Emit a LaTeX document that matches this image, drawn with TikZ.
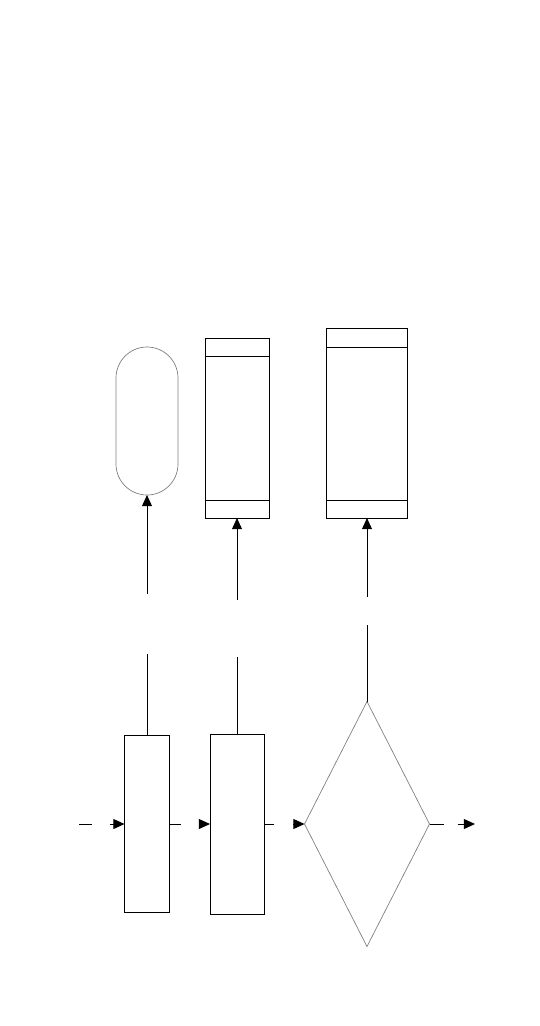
\documentclass[tikz,border=0pt]{standalone}
\usetikzlibrary{shapes.geometric,arrows.meta}

\begin{document}
\begin{tikzpicture}[x=0.03cm, y=-0.03cm, line width=0.8pt,
        box/.style = {draw, rectangle, inner sep=0pt, outer sep=0pt},
        term/.style = {draw=gray, line width=0.6pt, rectangle, rounded corners=0.93cm, inner sep=0pt, outer sep=0pt, minimum width=1.86cm, minimum height=4.44cm},
        dec/.style = {draw=gray, line width=0.6pt, diamond, aspect=0.51, inner sep=0pt, outer sep=0pt, minimum width=3.75cm, minimum height=7.35cm},
        conn/.style = {-{Triangle[length=9.5pt,width=8.5pt]}}]
        \useasboundingbox (0,0) rectangle (540,1026);
        % upper row
        \node[term] (T) at (147,421) {};
        \node[box, minimum width=1.92cm, minimum height=5.4cm] (S1) at (237,428) {};
        \node[box, minimum width=2.43cm, minimum height=5.7cm] (S2) at (367,423) {};
        \draw ([yshift=-0.54cm]S1.north west) -- ([yshift=-0.54cm]S1.north east);
        \draw ([yshift=0.54cm]S1.south west) -- ([yshift=0.54cm]S1.south east);
        \draw ([yshift=-0.57cm]S2.north west) -- ([yshift=-0.57cm]S2.north east);
        \draw ([yshift=0.54cm]S2.south west) -- ([yshift=0.54cm]S2.south east);
        % lower row
        \node[box, minimum width=1.35cm, minimum height=5.31cm] (P1) at (147,824) {};
        \node[box, minimum width=1.62cm, minimum height=5.4cm] (P2) at (237,824) {};
        \node[dec] (D) at (367,824) {};
        \coordinate (In) at (79,824);
        \coordinate (Out) at (475,824);
        % connectors
        \draw[conn] (In) -- ++(13,0) ++(18,0) -- (P1.west);
        \draw[conn] (P1.east) -- ++(11,0) ++(19,0) -- (P2.west);
        \draw[conn] (P2.east) -- ++(10,0) ++(19,0) -- (D.west);
        \draw[conn] (D.east) -- ++(14,0) ++(14,0) -- (Out);
        \draw[conn] (P1.north) -- ++(0,-82) ++(0,-60) -- (T.south);
        \draw[conn] (P2.north) -- ++(0,-77) ++(0,-57) -- (S1.south);
        \draw[conn] (D.north) -- ++(0,-77) ++(0,-28) -- (S2.south);
    \end{tikzpicture}
\end{document}
